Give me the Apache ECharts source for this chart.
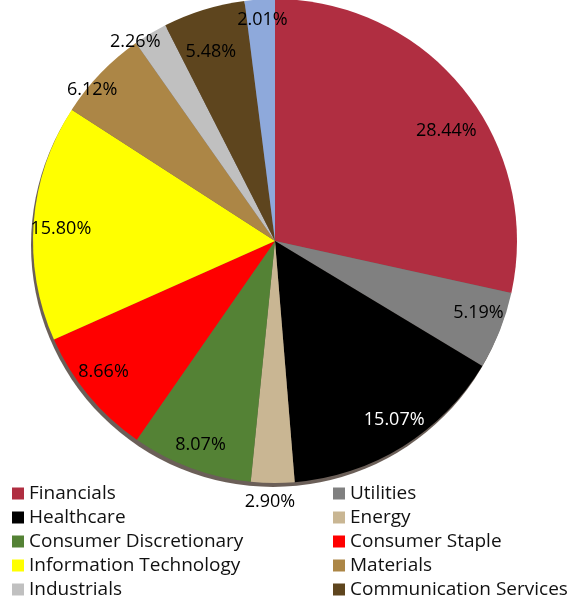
<!DOCTYPE html>
<html>
<head>
<meta charset="utf-8">
<script src="https://cdn.jsdelivr.net/npm/echarts@6/dist/echarts.min.js"></script>
<style>
  html, body { margin: 0; padding: 0; background: #fff; overflow: hidden; }
  /* taller than the window so the two legend columns never wrap */
  #chart { width: 571px; height: 680px; }
</style>
</head>
<body>
<div id="chart"></div>
<script>
// sector names, clockwise from 12 o'clock
var sectors = ["Financials", "Utilities", "Healthcare", "Energy", "Consumer Discretionary",
  "Consumer Staple", "Information Technology", "Materials", "Industrials",
  "Communication Services", "Other"];
var weights = [28.44, 5.19, 15.07, 2.90, 8.07, 8.66, 15.80, 6.12, 2.26, 5.48, 2.01];
var colors = ["#B02E41", "#808080", "#000000", "#C9B693", "#548235", "#FF0000",
  "#FFFF00", "#AC8646", "#C0C0C0", "#5E451E", "#8EA9DB"];
var legendLeft = ["Financials", "Healthcare", "Consumer Discretionary", "Information Technology", "Industrials"];
var legendRight = ["Utilities", "Energy", "Consumer Staple", "Materials", "Communication Services"];

var chart = echarts.init(document.getElementById("chart"));
var cx = 275, cy = 241, r = 242;
var font = "'Open Sans', Lato, sans-serif";

// small nudges so labels sit where the original put them
var nudge = [[4, 24], [4, -8], [6, -4], [-3, 46], [0, 2], [-6, -6],
  [0, 4], [-28, -2], [-29, -15], [-1, 16], [1, -7]];

var pieData = sectors.map(function (name, i) {
  return { name: name, value: weights[i], itemStyle: { color: colors[i] } };
});

function legend(left, names) {
  return {
    orient: "vertical",
    left: left,
    top: 484,
    itemWidth: 12,
    itemHeight: 12,
    itemGap: 5,
    icon: "rect",
    selectedMode: false,
    padding: 0,
    data: names,
    textStyle: { fontFamily: font, fontSize: 19, color: "#111" },
  };
}

chart.setOption({
  animation: false,
  color: colors,
  legend: [legend(12, legendLeft), legend(333, legendRight)],
  series: [
    {
      // 3D-ish rim under the pie
      type: "pie",
      silent: true,
      center: [cx - 2, cy + 4],
      radius: r,
      label: { show: false },
      labelLine: { show: false },
      itemStyle: { color: "#3a2a20", opacity: 0.75 },
      data: [{ name: "_rim", value: 1 }],
    },
    {
      type: "pie",
      center: [cx, cy],
      radius: r,
      startAngle: 90,
      clockwise: true,
      label: { show: false },
      labelLine: { show: false },
      itemStyle: { borderWidth: 0 },
      data: pieData,
    },
    {
      // transparent ring that carries the labels further out
      type: "pie",
      silent: true,
      center: [cx, cy],
      radius: [r * 0.75, r],
      startAngle: 90,
      clockwise: true,
      itemStyle: { color: "rgba(0,0,0,0)" },
      labelLine: { show: false },
      label: {
        show: true,
        position: "inside",
        fontFamily: font,
        fontSize: 18,
        color: "#000",
        formatter: function (p) { return p.value.toFixed(2) + "%"; },
      },
      labelLayout: function (p) {
        var n = nudge[p.dataIndex];
        return { dx: n[0], dy: n[1] };
      },
      data: sectors.map(function (name, i) {
        return {
          name: name,
          value: weights[i],
          label: i === 2 ? { color: "#fff" } : {},
        };
      }),
    },
  ],
});
</script>
</body>
</html>
